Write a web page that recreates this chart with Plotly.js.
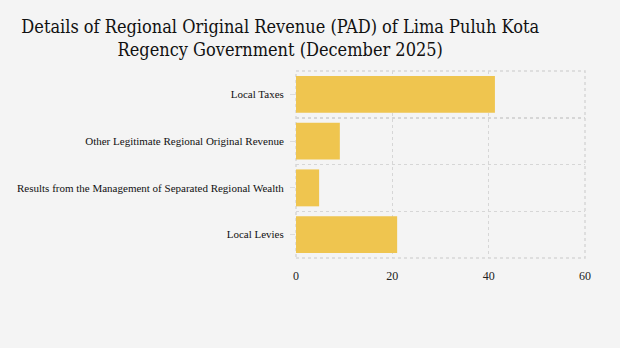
<!DOCTYPE html>
<html><head><meta charset="utf-8">
<script src="https://cdn.plot.ly/plotly-3.0.1.min.js"></script>
<style>html,body{margin:0;padding:0;background:#f4f4f4;}</style>
</head><body>
<div id="chart" style="width:620px;height:348px;"></div>
<script>
const categories = ["Local Taxes", "Other Legitimate Regional Original Revenue", "Results from the Management of Separated Regional Wealth", "Local Levies"];
const values = [41.3, 9.1, 4.8, 21.0];
const xTicks = [0, 20, 40, 60];
const titleText = "Details of Regional Original Revenue (PAD) of Lima Puluh Kota<br>Regency Government (December 2025)";

const data = [{
  type: 'bar', orientation: 'h',
  x: values, y: categories,
  marker: {color: '#efc54f'},
  hoverinfo: 'x+y'
}, {
  type: 'scatter', x: [], y: [], yaxis: 'y2', showlegend: false
}];

const layout = {
  width: 620, height: 348,
  paper_bgcolor: '#f4f4f4', plot_bgcolor: '#f4f4f4',
  margin: {l: 296, r: 35, t: 71, b: 90},
  showlegend: false,
  bargap: 0.21,
  title: {text: titleText, x: 0.452, xanchor: 'center', y: 0.905, yanchor: 'top',
    font: {family: '"DejaVu Serif Condensed", "DejaVu Serif", serif', size: 18, color: '#111'}},
  xaxis: {range: [0, 60], tickvals: xTicks, showgrid: true, gridcolor: '#d6d6d6', griddash: 'dot', gridwidth: 1.5,
    zeroline: false, showline: false, ticks: 'outside', ticklen: 7, tickcolor: 'rgba(0,0,0,0)',
    tickfont: {family: '"Liberation Serif", serif', size: 12, color: '#222'}, fixedrange: true},
  yaxis: {autorange: 'reversed', showgrid: false, zeroline: false, ticks: 'outside', ticklen: 5, tickcolor: '#dcdcdc',
    ticklabelstandoff: 4,
    tickfont: {family: '"Liberation Serif", serif', size: 11, color: '#111'}},
  yaxis2: {overlaying: 'y', range: [-0.5, 3.5], tick0: -0.5, dtick: 1, showgrid: true, gridcolor: '#d6d6d6', griddash: 'dot', gridwidth: 1.5,
    showticklabels: false, zeroline: false, side: 'left', ticks: ''},
  shapes: [{type: 'rect', xref: 'paper', yref: 'paper', x0: 0, x1: 1, y0: 0, y1: 1,
    line: {color: '#d6d6d6', width: 1.5, dash: 'dot'}, layer: 'below'}]
};

Plotly.newPlot('chart', data, layout, {displayModeBar: false, staticPlot: true});
</script>
</body></html>
